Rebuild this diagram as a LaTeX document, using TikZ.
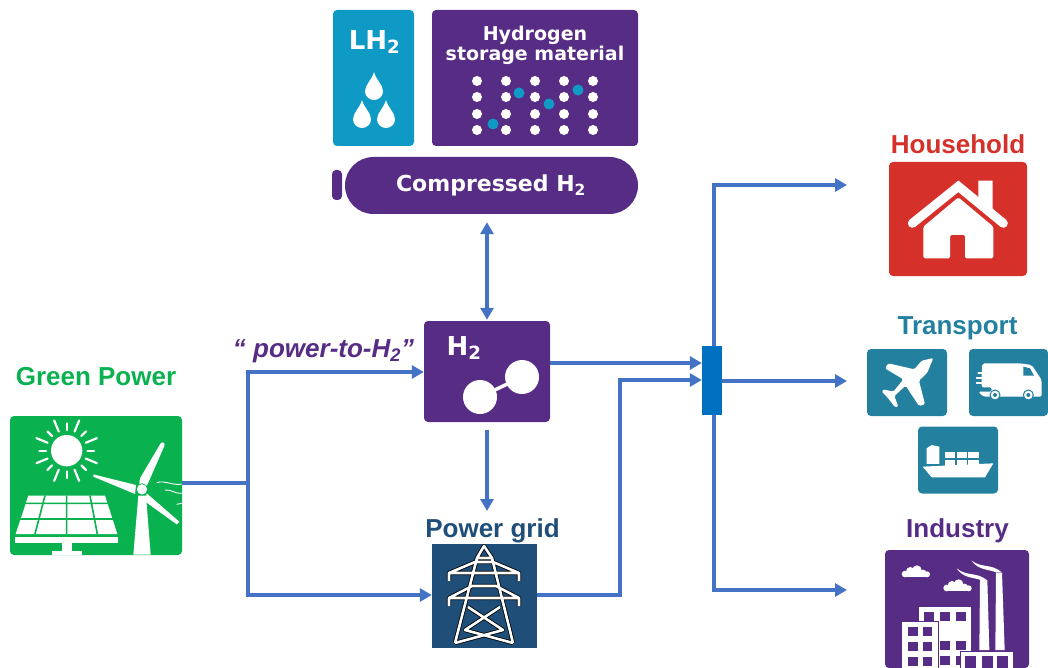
\documentclass[tikz,border=0pt]{standalone}
\usepackage{fontspec}
\setmainfont{Liberation Sans}
\newfontfamily\iconfont{DejaVu Sans}
\usetikzlibrary{arrows.meta,shapes.misc}

\definecolor{flowblue}{HTML}{4472C4}
\definecolor{busblue}{HTML}{0070C0}
\definecolor{h2purple}{HTML}{572C85}
\definecolor{lhblue}{HTML}{0F9AC6}
\definecolor{greenpower}{HTML}{0AB14F}
\definecolor{gridblue}{HTML}{1F4E79}
\definecolor{homered}{HTML}{D5302A}
\definecolor{transportblue}{HTML}{23819F}

\newcommand{\hdrop}[3]{\fill[white, shift={(#1,#2)}, scale=#3] (0,-2.1) .. controls (.25,-1.2) and (1,-.7) .. (1,.05) .. controls (1,.6) and (.5,1) .. (0,1) .. controls (-.5,1) and (-1,.6) .. (-1,.05) .. controls (-1,-.7) and (-.25,-1.2) .. cycle;}
\newcommand{\smallcloud}[2]{
\foreach \cloudx/\cloudy/\cloudr in {8/2/10,24/-6/13,44/-10/14,62/-1/10,74/3/9}
    \fill [white] (#1+\cloudx,#2+\cloudy) circle (\cloudr);
\fill [white] (#1+8,#2) rectangle (#1+74,#2+12);
}

\tikzset{
    iconbox/.style={fill=#1, rounded corners=4pt, inner sep=0pt},
    iconlabel/.style={text=white, font=\iconfont\bfseries\fontsize{19}{20}\selectfont, inner sep=0pt, align=center},
    headlabel/.style={text=#1, font=\bfseries\fontsize{26}{30}\selectfont, inner sep=0pt},
    flowline/.style={draw=flowblue, line width=3.5pt},
    flowarrow/.style={flowline, -{Triangle[length=12pt,width=13pt]}},
    bothflow/.style={flowline, {Triangle[length=12pt,width=13pt]}-{Triangle[length=12pt,width=13pt]}},
    pylonline/.style={draw=black, double=white, double distance=2.6pt, line width=.8pt, line join=round},
}

\begin{document}
\begin{tikzpicture}[x=1pt, y=-1pt]
\useasboundingbox (0,0) rectangle (1048,668);

\node [iconbox=lhblue, minimum width=81pt, minimum height=136pt] (lhbox) at (373.5,78) {};
\node [iconbox=h2purple, minimum width=206pt, minimum height=136pt] (storage) at (535,78) {};
\node [iconbox=h2purple, minimum width=10pt, minimum height=30pt] (valve) at (337,185) {};
\node [fill=h2purple, rounded rectangle, minimum width=293pt, minimum height=57pt, inner sep=0pt] (compressed) at (491.5,185.5) {};
\node [iconbox=h2purple, minimum width=126pt, minimum height=101pt] (h2box) at (487,371.5) {};
\node [fill=gridblue, minimum width=105pt, minimum height=104pt, inner sep=0pt] (grid) at (484.5,596) {};
\node [iconbox=greenpower, minimum width=172pt, minimum height=139pt] (green) at (96,485.5) {};
\node [iconbox=homered, minimum width=138pt, minimum height=114pt] (house) at (958,219) {};
\node [iconbox=transportblue, minimum width=80pt, minimum height=67pt] (plane) at (907,382.5) {};
\node [iconbox=transportblue, minimum width=79pt, minimum height=67pt] (truck) at (1008.5,382.5) {};
\node [iconbox=transportblue, minimum width=80pt, minimum height=67pt] (ship) at (958,460) {};
\node [iconbox=h2purple, minimum width=144pt, minimum height=118pt] (factory) at (957,609) {};
\node [fill=busblue, minimum width=20pt, minimum height=69pt, inner sep=0pt] (bus) at (712,380.5) {};

\node [iconlabel, font=\iconfont\bfseries\fontsize{26}{28}\selectfont] (lhlabel) at (374.5,42) {LH\textsubscript{2}};
\node [iconlabel] (storagelabel) at (535,45) {Hydrogen\\storage material};
\node [iconlabel, font=\iconfont\bfseries\fontsize{22}{24}\selectfont] (compressedlabel) at (491,185) {Compressed H\textsubscript{2}};
\node [iconlabel, font=\iconfont\bfseries\fontsize{26}{28}\selectfont] (h2label) at (464,348) {H\textsubscript{2}};
\node [headlabel=greenpower] (greenlabel) at (96,377) {Green Power};
\node [headlabel=gridblue] (gridlabel) at (492.5,531) {Power grid};
\node [headlabel=homered] (houselabel) at (958,144) {Household};
\node [headlabel=transportblue] (transportlabel) at (957.5,328) {Transport};
\node [headlabel=h2purple] (industrylabel) at (957.5,531) {Industry};
\node [headlabel=h2purple, font=\bfseries\itshape\fontsize{26}{30}\selectfont] (p2hlabel) at (323.5,351) {“ power-to-H\textsubscript{2}”};

\coordinate (split) at (248,483);
\coordinate (risein) at (620,380);
\coordinate (h2out) at (550,363);
\coordinate (upturn) at (714,185);
\coordinate (downturn) at (714,590);
\coordinate (houseend) at (847,185);
\coordinate (transportend) at (847,381);
\coordinate (industryend) at (847,590);
\coordinate (gridend) at (487,511);

\draw [flowline, line width=4.5pt] (green.east |- split) -- (split);
\draw [flowarrow] (split) |- ([yshift=-.5pt]h2box.west);
\draw [flowarrow] (split) |- ([yshift=1pt]grid.west);
\draw [flowarrow] (h2out) -- (bus.west |- h2out);
\draw [flowarrow] ([yshift=1pt]grid.east) -| (risein) -- (bus.west |- risein);
\draw [bothflow] ([yshift=-8pt]compressed.south -| h2box.north) -- ([yshift=1pt]h2box.north);
\draw [flowarrow] ([yshift=-8pt]h2box.south) -- (gridend);
\draw [flowarrow] ([xshift=2pt]bus.north) -- (upturn) -- (houseend);
\draw [flowarrow] ([xshift=2pt]bus.south) -- (downturn) -- (industryend);
\draw [flowarrow] (bus.east |- transportend) -- (transportend);

% liquid hydrogen and storage material
\hdrop{374}{91}{9}
\hdrop{362}{119}{9}
\hdrop{386}{119}{9}
\foreach \dotx in {477,506,535,564,593}
    \foreach \doty in {81,97,114,130}
        \fill [white] (\dotx,\doty) circle (5);
\foreach \dotx/\doty in {519/93,549/104,578/90,493/124}
    \fill [lhblue] (\dotx,\doty) circle (5.5);

% hydrogen molecule
\draw [white, line width=3.5pt] (480,397) -- (522,377);
\fill [white] (480,397) circle (17);
\fill [white] (522,377) circle (17);

% solar panel and wind turbine
\begin{scope}[shift={(0,330)}, scale=1/3]
\fill [white] (200,362) circle (47);
\foreach \ang in {0,45,...,315}
    \draw [white, line width=2.2pt, line cap=round] (200,362) ++(\ang:62) -- ++(\ang:20);
\foreach \ang in {22.5,67.5,...,337.5}
    \draw [white, line width=2.2pt, line cap=round] (200,362) ++(\ang:62) -- ++(\ang:36);
\fill [white] (85,497) -- (315,497) -- (352,612) -- (47,612) -- cycle;
\draw [greenpower, line width=1.6pt] (72,520) -- (328,520) (60,567) -- (340,567)
    (135,497) -- (105,612) (200,497) -- (200,612) (270,497) -- (292,612);
\fill [white] (45,622) rectangle (355,640);
\fill [white] (185,640) rectangle (215,662);
\fill [white] (155,662) rectangle (245,674);
\fill [white] (415,497) -- (438,497) -- (452,674) -- (400,674) -- cycle;
\fill [white] (418,460) -- (420,445) -- (482,340) .. controls (490,333) and (496,340) .. (493,348) -- (444,460) -- (436,475) -- cycle;
\fill [white] (280,433) -- (408,465) -- (405,492) -- (280,440) -- cycle;
\fill [white] (440,490) -- (538,575) -- (530,583) -- (436,515) -- cycle;
\fill [white, draw=greenpower, line width=.7pt] (426,478) circle (17);
\draw [white, line width=.9pt] (470,458) .. controls (495,450) and (520,468) .. (545,462)
    (495,480) .. controls (515,478) and (525,492) .. (545,490)
    (530,523) -- (545,520);
\end{scope}

% pylon
\draw [pylonline] (455,643) -- (477,558) -- (484,546) -- (492,558) -- (513,643)
    (477,558) -- (492,558)
    (449,581) -- (449,573) -- (475,562) -- (493,562) -- (519,573) -- (519,581)
    (449,573) -- (519,573)
    (449,606) -- (449,598) -- (472,586) -- (496,586) -- (519,598) -- (519,606)
    (449,598) -- (519,598)
    (468,607) -- (503,630) -- (455,643)
    (500,607) -- (465,630) -- (513,643);

% house
\begin{scope}[shift={(850,120)}, scale=1/3]
\fill [white, rounded corners=1.5pt] (220,320) -- (325,232) -- (430,320) -- (430,415) -- (345,415) -- (345,345) -- (300,345) -- (300,415) -- (220,415) -- cycle;
\fill [white] (385,182) -- (428,182) -- (428,285) -- (385,250) -- cycle;
\draw [white, line width=9pt, line cap=round, line join=miter] (187,310) -- (325,199) -- (460,310);
\end{scope}

% plane, truck and ship
\begin{scope}[shift={(850,120)}, scale=1/3]
\fill [white, rounded corners=1.5pt] (250,714) -- (232,758) -- (207,782) -- (225,853) -- (207,858) -- (167,797) -- (133,828) -- (145,860) -- (135,862) -- (113,833) -- (95,815) -- (100,808) -- (130,815) -- (160,778) -- (105,745) -- (115,730) -- (193,748) -- (215,722) -- cycle;
\fill [white, rounded corners=2pt] (397,730) -- (510,730) -- (545,735) -- (575,780) -- (575,830) -- (400,830) -- (385,815) -- (425,815) -- (425,802) -- (395,802) -- (395,760) -- cycle;
\draw [white, line width=1.8pt, line cap=round] (385,760) -- (420,760) (380,775) -- (425,775) (380,790) -- (440,790);
\fill [transportblue] (520,740) -- (540,745) -- (552,767) -- (520,767) -- cycle;
\fill [white, draw=transportblue, line width=1pt] (435,825) circle (15);
\fill [white, draw=transportblue, line width=1pt] (535,825) circle (15);
\fill [transportblue] (435,825) circle (6);
\fill [transportblue] (535,825) circle (6);
\fill [white] (218,1040) -- (430,1030) -- (405,1072) -- (245,1072) -- cycle;
\fill [white] (230,985) -- (245,975) -- (268,980) -- (268,1032) -- (230,1032) -- cycle;
\foreach \boxx in {285,320,355}
    \foreach \boxy in {997,1020}
        \fill [white] (\boxx,\boxy) rectangle ++(31,18);
\end{scope}

% factory
\begin{scope}[shift={(870,510)}, scale=1/3]
\smallcloud{97}{190}
\smallcloud{222}{232}
\fill [white] (330,210) -- (352,210) -- (358,420) -- (328,420) -- cycle;
\fill [white] (378,188) -- (396,188) -- (404,420) -- (376,420) -- cycle;
\fill [white] (260,175) .. controls (290,200) and (320,185) .. (350,210) -- (332,210) .. controls (310,202) and (280,205) .. cycle;
\fill [white] (305,152) .. controls (335,175) and (365,160) .. (395,187) -- (378,187) .. controls (360,178) and (325,182) .. cycle;
\fill [white] (147,290) rectangle (302,474);
\foreach \winx/\winy in {162/305,210/305,258/305,210/393,258/393,210/438,258/438}
    \fill [h2purple] (\winx,\winy) rectangle ++(30,28);
\fill [white, draw=h2purple, line width=.7pt] (93,335) rectangle (205,474);
\foreach \winx in {115,158}
    \foreach \winy in {350,395,440}
        \fill [h2purple] (\winx,\winy) rectangle ++(28,28);
\fill [white, draw=h2purple, line width=.7pt] (272,423) rectangle (430,474);
\foreach \winx in {285,335,382}
    \fill [h2purple] (\winx,438) rectangle ++(33,36);
\end{scope}
\end{tikzpicture}
\end{document}
